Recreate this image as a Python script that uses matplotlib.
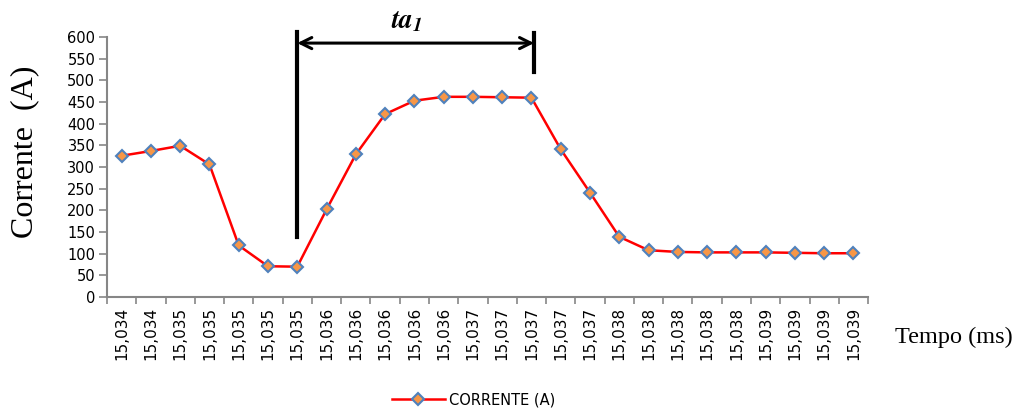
import numpy as np
import matplotlib
matplotlib.use("Agg")
import matplotlib.pyplot as plt

# tick labels of the time axis (ms)
tempo = ["15,034", "15,034", "15,035", "15,035", "15,035", "15,035", "15,035",
         "15,036", "15,036", "15,036", "15,036", "15,036",
         "15,037", "15,037", "15,037", "15,037", "15,037",
         "15,038", "15,038", "15,038", "15,038", "15,038",
         "15,039", "15,039", "15,039", "15,039"]
# current (A)
corrente = [326, 337, 349, 306, 119, 71, 70, 202, 329, 422, 453, 462, 462,
            461, 460, 341, 241, 139, 108, 104, 103, 103, 103, 102, 101, 101]

# ta1 interval markers (category index / current level)
ta_start, ta_end = 6, 14.09
ta_level = 586

gray = '#868686'
red = '#ff0000'
orange = '#f79646'
blue = '#4f81bd'

fig = plt.figure(figsize=(10.21, 4.15), dpi=100, facecolor='white')
ax = fig.add_axes([0.1048, 0.2843, 0.7454, 0.6265])

x = np.arange(len(corrente))
ax.plot(x, corrente, color=red, linewidth=1.8, marker='D', markersize=6.5,
        markerfacecolor=orange, markeredgecolor=blue, markeredgewidth=1.5,
        label="CORRENTE (A)", zorder=3)

ax.set_xlim(-0.5, len(corrente) - 0.5)
ax.set_ylim(0, 600)
ax.set_yticks(np.arange(0, 601, 50))
ax.set_xticks(x)
ax.set_xticklabels(tempo, rotation=90, fontsize=11)
ax.set_xticks(np.arange(-0.5, len(corrente)), minor=True)
ax.tick_params(axis='x', which='major', length=0, pad=7)
ax.tick_params(axis='x', which='minor', length=5, color=gray, width=1.2)
ax.tick_params(axis='y', length=5.5, color=gray, width=1.2, labelsize=10.5, pad=3)

for s in ['top', 'right']:
    ax.spines[s].set_visible(False)
for s in ['left', 'bottom']:
    ax.spines[s].set_color(gray)
    ax.spines[s].set_linewidth(1.5)

# ta1 annotation
ax.plot([ta_start, ta_start], [138, 612], color='black', linewidth=3, clip_on=False, zorder=4)
ax.plot([ta_end, ta_end], [519, 610], color='black', linewidth=3, clip_on=False, zorder=4)
ax.annotate("", xy=(ta_start, ta_level), xytext=(ta_end, ta_level),
            arrowprops=dict(arrowstyle='<->, head_length=0.8, head_width=0.4',
                            color='black', linewidth=2.2, shrinkA=0, shrinkB=0),
            annotation_clip=False)
ax.text((ta_start + ta_end) / 2 - 0.3, 637, r"$\mathbfit{ta}_{\mathbfit{1}}$",
        ha='center', va='center', fontsize=19.5, math_fontfamily='stix', clip_on=False)

fig.text(0.024, 0.633, "Corrente  (A)", rotation=90, ha='center', va='center',
         family='Liberation Serif', fontsize=23)
fig.text(0.934, 0.186, "Tempo (ms)", ha='center', va='center',
         family='Liberation Serif', fontsize=17.5)

fig.legend(loc='center', bbox_to_anchor=(0.464, 0.036), frameon=False,
           fontsize=10.5, handlelength=3.6, handletextpad=0.3)

fig.savefig("out.png", dpi=100, facecolor='white')
